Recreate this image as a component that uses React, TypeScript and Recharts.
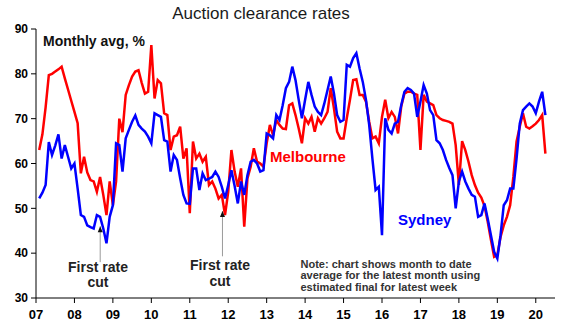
import React from 'react';
import { LineChart, Line, XAxis, YAxis, ReferenceLine, ReferenceDot } from 'recharts';

const START_YEAR = 2007;

// Monthly averages, Jan 2007 .. Mar 2020
const melbourne = [
  63, 66.5, 72.5, 79.7, 80, 80.5, 81, 81.6, 79, 76.5, 74, 71.5,
  69, 57.8, 61.5, 58, 56.3, 56, 53.7, 57, 53, 48.5, 56, 50.7,
  56, 70, 67, 75.3, 77.5, 79.4, 80.5, 80.8, 78, 75.6, 76, 86.4,
  74.5, 78.6, 77.9, 71.2, 70.8, 63, 66, 66.3, 68.2, 61.1, 63.4, 48.9,
  64.9, 61.1, 62.2, 60.4, 61.5, 55.2, 56, 54.4, 52.2, 53, 48.5, 53.7,
  63, 58.2, 54.8, 58.9, 45.9, 56.7, 59.3, 63.4, 60.4, 60, 59.3, 64.5,
  68.6, 66.3, 69.7, 68.6, 67.8, 67.7, 73, 73.4, 70.8, 67.8, 64.5, 70.1,
  68.9, 70.4, 67.1, 70.1, 68.9, 70.1, 71.5, 76.8, 72.3, 67.1, 65.6, 65.6,
  70.1, 74.2, 78.6, 78.8, 75.3, 75.3, 73.8, 69.3, 65.6, 66, 64.5, 70.4,
  74.2, 70.1, 71.5, 70.4, 66.7, 72.7, 75.6, 76, 76, 75.6, 75.3, 63,
  75.3, 73.8, 73.4, 73, 70.8, 70.1, 69.7, 69.5, 69.3, 68.9, 64.1, 55.2,
  65, 63, 60.4, 57.4, 55.2, 53.5, 52.4, 50.5, 47, 43, 39.2, 39.6,
  43.6, 46.2, 48.1, 50.7, 57, 64.9, 68.2, 71.2, 68.2, 67.8, 68.3, 68.9,
  69.7, 70.8, 62.2,
];

const sydney = [
  52.2, 53.5, 55.2, 64.8, 61.9, 64, 66.5, 61.1, 64.1, 61.5, 58.9, 60,
  54.4, 48.5, 48.1, 46.2, 45.8, 45.5, 48.5, 48.1, 45.5, 42.2, 48.1, 50.7,
  64.5, 64.1, 58.2, 65.6, 67.5, 69.3, 70.7, 68.6, 67.8, 67.1, 66, 64.5,
  71.2, 70.8, 70.4, 65.2, 64.9, 58.2, 61.9, 60.8, 56.7, 53, 51.1, 51,
  58.9, 58.9, 54.1, 57.8, 56.3, 56.6, 57, 58.2, 57, 54.8, 52.2, 55.2,
  58.5, 55, 51.1, 56, 53, 57.4, 60.4, 60.8, 60, 58.2, 58.5, 66.7,
  66.3, 65.6, 70.8, 69.7, 73, 76.8, 78.2, 81.6, 78.6, 74.2, 70.1, 74.2,
  78.2, 75.3, 72.7, 71.5, 70.8, 73.4, 76.4, 79.4, 75.6, 70.8, 69.3, 69.7,
  82, 81.6, 83.5, 84.6, 81.2, 78.2, 74.2, 68.6, 61.1, 54.1, 54.8, 44,
  70.1, 67.5, 66.7, 68.9, 69.3, 73, 76, 76.8, 76.4, 75.6, 70.4, 73.8,
  77.5, 75.6, 71.9, 70.8, 65.2, 64.5, 63, 60.8, 59, 57.4, 50, 56,
  58.2, 56, 54.4, 53, 52.6, 48.1, 48.5, 51.1, 47.7, 44, 40.3, 38.8,
  44, 50.7, 51.8, 54.4, 54.4, 61.1, 68.9, 71.9, 72.7, 73.4, 72.7, 71.2,
  73.8, 76, 70.8,
];

const yearTicks = [2007, 2008, 2009, 2010, 2011, 2012, 2013, 2014, 2015, 2016, 2017, 2018, 2019, 2020];
const valueTicks = [30, 40, 50, 60, 70, 80, 90];

// "First rate cut" annotations (data coordinates)
const rateCuts = [
  { x: 2008.67, base: 38.0, tip: 46.0 },
  { x: 2011.85, base: 39.3, tip: 49.4 },
];

const noteLines = [
  'Note: chart shows month to date',
  'average for the latest month using',
  'estimated final for latest week',
];

const data = melbourne.map((m, i) => ({
  x: START_YEAR + (i + 1) / 12,
  melbourne: m,
  sydney: sydney[i],
}));

const FONT = '"Liberation Sans", Arial, Helvetica, sans-serif';
const RED = '#ff0000';
const BLUE = '#0000ff';

const ArrowHead = (props: any) => {
  const { cx, cy } = props;
  if (cx == null || cy == null) return null;
  return <polygon points={`${cx},${cy} ${cx - 2.5},${cy + 6} ${cx + 2.5},${cy + 6}`} fill="#111" />;
};

export default function App() {
  return (
    <div style={{ position: 'absolute', left: 0, top: 0, width: 570, height: 329, background: '#fff', fontFamily: FONT }}>
      <LineChart width={570} height={329} data={data} margin={{ top: 29, right: 15, bottom: 6, left: 0 }}>
        <XAxis
          dataKey="x"
          type="number"
          domain={[2007, 2020.5]}
          ticks={yearTicks}
          allowDataOverflow
          tickFormatter={(v: number) => String(v % 100).padStart(2, '0')}
          tick={{ fontSize: 13, fontWeight: 700, fill: '#000', fontFamily: FONT }}
          axisLine={{ stroke: '#000', strokeWidth: 1 }}
          tickLine={{ stroke: '#000' }}
          tickSize={5}
          tickMargin={7}
          height={25}
          interval={0}
        />
        <XAxis
          xAxisId="top"
          orientation="top"
          dataKey="x"
          type="number"
          domain={[2007, 2020.5]}
          tick={false}
          tickLine={false}
          axisLine={{ stroke: '#8c8c8c', strokeWidth: 1.5 }}
          height={0}
        />
        <YAxis
          domain={[30, 90]}
          ticks={valueTicks}
          allowDataOverflow
          width={36}
          tick={{ fontSize: 12, fontWeight: 700, fill: '#000', fontFamily: FONT }}
          axisLine={{ stroke: '#000', strokeWidth: 1 }}
          tickLine={{ stroke: '#000' }}
          tickSize={5}
          tickMargin={3}
          interval={0}
        />
        <YAxis
          yAxisId="right"
          orientation="right"
          domain={[30, 90]}
          tick={false}
          tickLine={false}
          axisLine={{ stroke: '#8c8c8c', strokeWidth: 1.5 }}
          width={0}
        />
        {rateCuts.map((c, i) => (
          <ReferenceLine
            key={`cut-line-${i}`}
            segment={[{ x: c.x, y: c.base }, { x: c.x, y: c.tip }]}
            stroke="#9a9a9a"
            strokeWidth={1}
          />
        ))}
        {rateCuts.map((c, i) => (
          <ReferenceDot key={`cut-head-${i}`} x={c.x} y={c.tip} r={0} shape={ArrowHead} />
        ))}
        <Line
          type="linear"
          dataKey="melbourne"
          stroke={RED}
          strokeWidth={2.5}
          dot={false}
          isAnimationActive={false}
        />
        <Line
          type="linear"
          dataKey="sydney"
          stroke={BLUE}
          strokeWidth={2.5}
          dot={false}
          isAnimationActive={false}
        />
      </LineChart>
      <svg
        width={570}
        height={329}
        style={{ position: 'absolute', left: 0, top: 0, pointerEvents: 'none' }}
        fontFamily={FONT}
      >
        <text x={261} y={19} textAnchor="middle" fontSize={17} fill="#1a1a1a">
          Auction clearance rates
        </text>
        <text x={43} y={45.5} fontSize={14} fontWeight={700} fill="#111">
          Monthly avg, %
        </text>
        <text x={270} y={162} fontSize={15} fontWeight={700} fill={RED}>
          Melbourne
        </text>
        <text x={398} y={225} fontSize={15} fontWeight={700} fill={BLUE}>
          Sydney
        </text>
        <text x={98} y={271.5} textAnchor="middle" fontSize={14} fontWeight={700} fill="#222">
          First rate
        </text>
        <text x={98} y={286.5} textAnchor="middle" fontSize={14} fontWeight={700} fill="#222">
          cut
        </text>
        <text x={220} y={270} textAnchor="middle" fontSize={14} fontWeight={700} fill="#222">
          First rate
        </text>
        <text x={220} y={285.5} textAnchor="middle" fontSize={14} fontWeight={700} fill="#222">
          cut
        </text>
        {noteLines.map((t, i) => (
          <text key={i} x={300.5} y={267.5 + i * 11.8} fontSize={11} fontWeight={700} fill="#333">
            {t}
          </text>
        ))}
      </svg>
    </div>
  );
}
